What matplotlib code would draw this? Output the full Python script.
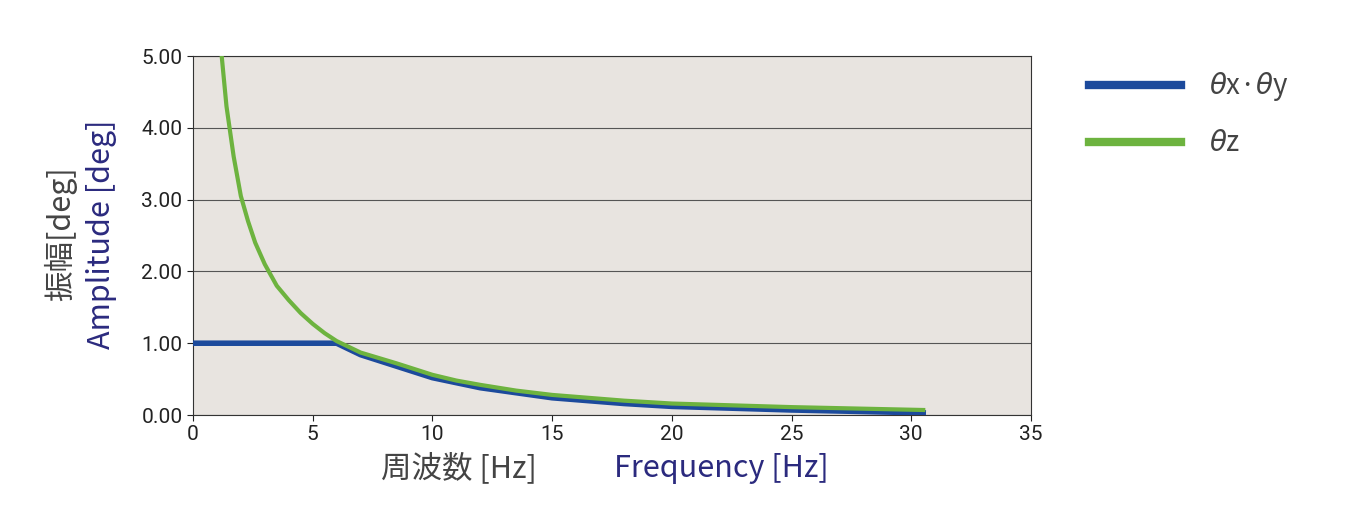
import matplotlib
matplotlib.use('Agg')
import matplotlib.pyplot as plt

plt.rcParams['font.family'] = ['Noto Sans CJK JP', 'DejaVu Sans']

# data
freq_z = [1.2, 1.4, 1.7, 2.0, 2.3, 2.6, 3.0, 3.5, 4.0, 4.5, 5.0, 5.5, 6.0, 7.0, 8.0, 8.5, 10, 11, 12, 13.5, 15, 18, 20, 25, 30.5]
amp_z = [5.0, 4.3, 3.6, 3.05, 2.7, 2.4, 2.1, 1.8, 1.6, 1.42, 1.27, 1.14, 1.03, 0.87, 0.77, 0.72, 0.56, 0.48, 0.42, 0.34, 0.28, 0.2, 0.16, 0.11, 0.07]
freq_xy = [0, 2, 4, 6.0, 7.0, 8.5, 10, 12, 15, 18, 20, 25, 30.5]
amp_xy = [1.0, 1.0, 1.0, 1.0, 0.84, 0.68, 0.52, 0.38, 0.24, 0.16, 0.12, 0.07, 0.03]
yticks = [0, 1, 2, 3, 4, 5]
xticks = [0, 5, 10, 15, 20, 25, 30, 35]

navy = '#2b2a7e'
gray = '#444444'

fig = plt.figure(figsize=(13.56, 5.32), dpi=100)
ax = fig.add_axes([0.1423, 0.2199, 0.618, 0.6748])
ax.set_facecolor('#e8e4e0')
ax.plot(freq_xy, amp_xy, color='#1c4a9c', linewidth=4, label='$\\theta$x·$\\theta$y', zorder=3)
ax.plot(freq_z, amp_z, color='#6db33f', linewidth=3, label='$\\theta$z', zorder=4)
ax.set_xlim(0, 35)
ax.set_ylim(0, 5)
ax.set_xticks(xticks)
ax.set_yticks(yticks)
ax.set_yticklabels(['%.2f' % v for v in yticks])
ax.tick_params(labelsize=15, colors='#222222', length=4)
for t in ax.get_xticklabels() + ax.get_yticklabels():
    t.set_fontfamily('Roboto')
ax.yaxis.grid(True, color='#555555', linewidth=0.8)
for s in ax.spines.values():
    s.set_color('#333333')

leg = ax.legend(loc='upper left', bbox_to_anchor=(1.04, 1.03), frameon=False,
                fontsize=20, handlelength=3.3, labelspacing=0.9, handletextpad=1.0)
for t in leg.get_texts():
    t.set_color(gray)
for l in leg.get_lines():
    l.set_linewidth(6)

fig.text(0.3385, 0.12, '周波数 [Hz]', fontsize=22, color=gray, ha='center', va='center')
fig.text(0.532, 0.12, 'Frequency [Hz]', fontsize=22, color=navy, ha='center', va='center')
fig.text(0.045, 0.56, '振幅[deg]', fontsize=22, color=gray, rotation=90, ha='center', va='center')
fig.text(0.075, 0.56, 'Amplitude [deg]', fontsize=22, color=navy, rotation=90, ha='center', va='center')

plt.savefig('out.png', dpi=100)
